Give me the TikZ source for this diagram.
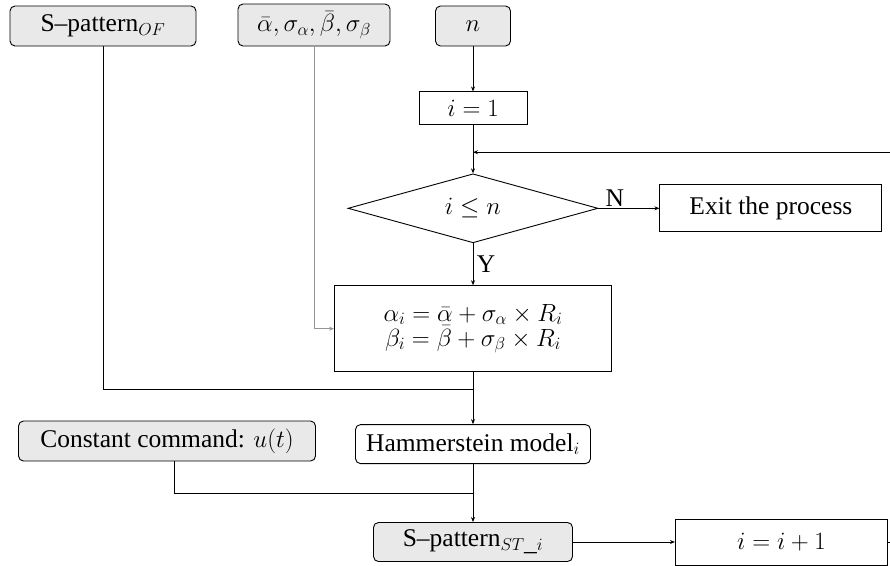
\documentclass[tikz,border=0pt]{standalone}
\usepackage{fontspec}
\setmainfont{Liberation Serif}
\usetikzlibrary{positioning,arrows.meta,shapes.geometric,calc}
\definecolor{inpfill}{RGB}{233,233,233}
\definecolor{thinline}{RGB}{150,150,150}
\tikzset{
  txt/.style={font=\fontsize{25.5}{29}\selectfont},
  box/.style={draw, line width=0.9pt, align=center, inner sep=2pt, txt},
  ibox/.style={box, rounded corners=5pt, fill=inpfill},
  rbox/.style={box, rounded corners=5pt},
  dec/.style={box, diamond, aspect=3.6, inner sep=0pt},
  arr/.style={-{Stealth[length=5pt,width=4pt]}, line width=0.9pt},
  garr/.style={arr, draw=thinline, line width=0.7pt},
  line/.style={line width=0.9pt},
}

\begin{document}
\begin{tikzpicture}[x=1pt, y=1pt]
  \useasboundingbox (0,0) rectangle (890,-565);
  % inputs
  \node[ibox, minimum width=186, minimum height=40] (sof) at (103,-26) {S--pattern$_{OF}$};
  \node[ibox, minimum width=152, minimum height=42] (par) at (314,-25) {$\bar{\alpha}, \sigma_{\alpha}, \bar{\beta}, \sigma_{\beta}$};
  \node[ibox, minimum width=75, minimum height=40] (n) at (473,-26) {$n$};
  % main chain
  \node[box, minimum width=108, minimum height=33, below=45 of n] (init) {$i=1$};
  \node[dec, minimum width=250, minimum height=69, below=48 of init] (chk) {$i\leq n$};
  \node[box, minimum width=222, minimum height=47, right=61 of chk] (exit) {Exit the process};
  \node[box, minimum width=277, minimum height=86, below=42 of chk] (upd) {$\alpha_i=\bar{\alpha}+\sigma_{\alpha}\times R_i$\\[-4pt]$\beta_i=\bar{\beta}+\sigma_{\beta}\times R_i$};
  \node[rbox, minimum width=235, minimum height=39, below=52 of upd] (hmod) {Hammerstein model$_i$};
  \node[ibox, minimum width=297, minimum height=40] (cst) at (167,-441) {Constant command: $u(t)$};
  \node[ibox, minimum width=199, minimum height=39, below=58 of hmod] (sst) {S--pattern$_{ST\_i}$};
  \node[box, minimum width=212, minimum height=46, right=102 of sst] (inc) {$i=i+1$};
  % joints
  \coordinate (back) at ($(init.south)!.56!(chk.north)$);
  \coordinate (j1) at ($(upd.south)!.33!(hmod.north)$);
  \coordinate (j2) at ($(hmod.south)!.5!(sst.north)$);
  % connectors
  \draw[arr] (n) -- (init);
  \draw[arr] (init) -- (chk);
  \draw[arr] (chk.east) -- node[pos=0.27, above, txt, inner sep=1pt] {N} (exit.west);
  \draw[arr] (chk.south) -- node[pos=0.5, right, txt] {Y} (upd.north);
  \draw[garr] (par.south) |- (upd.west);
  \draw[line] (sof.south) |- (j1);
  \draw[arr] (upd.south) -- (hmod.north);
  \draw[line] ([xshift=7pt]cst.south) |- (j2);
  \draw[arr] (hmod.south) -- (sst.north);
  \draw[arr] (sst.east) -- (inc.west);
  \draw[arr] (inc.east) -- ++(12,0) |- (back);
\end{tikzpicture}
\end{document}
